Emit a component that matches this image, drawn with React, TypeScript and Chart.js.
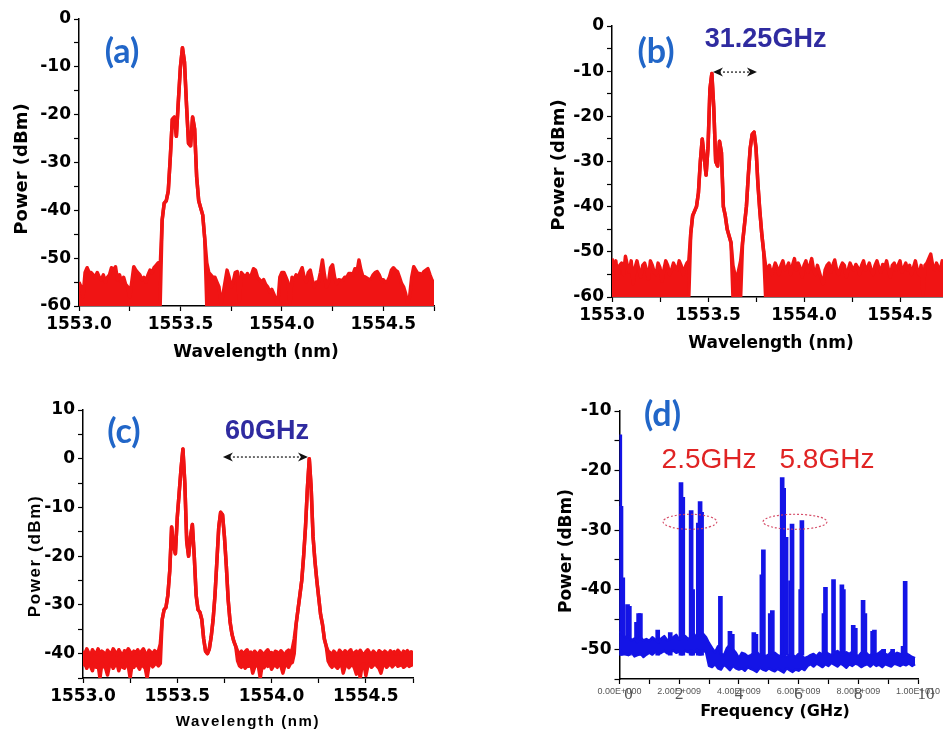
import { useEffect, useRef } from 'react';
import { Chart, registerables } from 'chart.js';

Chart.register(...registerables);

// ---- colours -------------------------------------------------------------
const RED = '#f01414';
const BLUE = '#1414e6';
const LABEL_BLUE = '#2166c8';
const INDIGO = '#2f2ba0';
const NOTE_RED = '#e02424';

// ---- OSA sampling grid shared by panels (a)-(c), nm ----------------------
const WL_START = 1553.0;
const WL_STEP = 0.01;

// ---- (a) single optical carrier: upper / lower trace envelope (dBm) ------
// lower value null = the trace is a single line at that sample
const aHigh = [
  -55, -56, -58, -53, -52, -53, -53, -53.5, -54, -53,
  -54, -54.5, -53.5, -55, -54, -53.5, -52, -52.5, -51.8, -54.5,
  -53.5, -55, -54, -55.5, -56, -58, -55, -51.8, -52.5, -53,
  -53.5, -54.5, -54, -55, -53.5, -52.5, -53, -52, -51.5, -51,
  -52, -42, -38.5, -38, -36, -29, -21, -20.5, -24.5, -17,
  -10, -6, -9, -18, -26, -26.5, -20.5, -23, -33, -38,
  -39.5, -41, -46, -51, -53, -53.5, -54, -54, -55, -56,
  -59.5, -57.5, -55, -52.5, -54, -56, -55, -53, -52.8, -59,
  -53, -53.5, -54, -53.2, -54, -53.5, -52.2, -52.5, -54, -54.5,
  -55, -54.5, -55.5, -56, -57, -56.5, -57.5, -58.5, -59.5, -54,
  -53, -53, -54, -55, -59.5, -54, -54.5, -53.5, -54, -53,
  -52, -54, -55, -53, -52.5, -54.5, -56, -55, -55, -53,
  -50.4, -53.5, -56, -55, -52, -51.4, -54, -55.3, -54.5, -54.6,
  -54.6, -54, -54, -53.2, -53.2, -53.5, -52.2, -53, -50.4, -52.5,
  -53.9, -53.9, -54.2, -54.5, -54.3, -53.5, -53, -52.8, -53.5, -54.6,
  -54.5, -55, -54.9, -54, -52.5, -52, -52.5, -52.8, -54, -55.3,
  -56, -57.4, -59.4, -58, -54, -51.8, -52.5, -53.2, -53.2, -53.5,
  -52.8, -52.5, -52.2, -53.5, -54.6, -55,
];
const aLow = [
  -60, -60, -60, -60, -60, -60, -60, -60, -60, -60,
  -60, -60, -60, -60, -60, -60, -60, -60, -60, -60,
  -60, -60, -60, -60, -60, -60, -60, -60, -60, -60,
  -60, -60, -60, -60, -60, -60, -60, -60, -60, -60,
  -60, null, null, null, null, null, null, null, null, null,
  null, null, null, null, null, null, null, null, null, null,
  null, null, null, -60, -60, -60, -60, -60, -60, -60,
  -60, -60, -60, -60, -60, -60, -60, -60, -60, -60,
  -60, -60, -60, -60, -60, -60, -60, -60, -60, -60,
  -60, -60, -60, -60, -60, -60, -60, -60, -60, -60,
  -60, -60, -60, -60, -60, -60, -60, -60, -60, -60,
  -60, -60, -60, -60, -60, -60, -60, -60, -60, -60,
  -60, -60, -60, -60, -60, -60, -60, -60, -60, -60,
  -60, -60, -60, -60, -60, -60, -60, -60, -60, -60,
  -60, -60, -60, -60, -60, -60, -60, -60, -60, -60,
  -60, -60, -60, -60, -60, -60, -60, -60, -60, -60,
  -60, -60, -60, -60, -60, -60, -60, -60, -60, -60,
  -60, -60, -60, -60, -60, -60,
];

// ---- (b) carrier + 31.25 GHz line ---------------------------------------
const bHigh = [
  -51.5, -54, -52, -56, -53, -52.5, -55, -51, -53, -54.5,
  -52, -57, -53.5, -52, -54, -55.5, -53, -52.5, -54, -56,
  -52, -53, -54.5, -55, -52.5, -53.5, -56.5, -54, -52, -53,
  -55, -54, -52.5, -53.5, -54, -52, -53, -55, -53.5, -52.5,
  -52, -46, -42, -41, -40, -37, -30, -25, -29, -33,
  -27, -14, -10.5, -18, -30, -31, -25.5, -28, -40, -42,
  -45, -46.5, -48, -53, -55, -56, -54, -52, -48, -44,
  -40, -33, -27, -24, -23.5, -27, -35, -41, -46, -50,
  -53, -54, -53, -55, -54, -52.5, -53.5, -55, -53, -52,
  -54, -53.5, -52.5, -55, -53, -51.5, -54, -52.5, -53.5, -55.5,
  -53, -52, -54.5, -53, -51.5, -54, -55, -53, -54.5, -56,
  -57, -54, -53, -52.5, -54.5, -53, -51.8, -54, -55, -53.5,
  -52.5, -53, -55.5, -54, -52.5, -53.5, -54, -52.8, -53.5, -55,
  -53, -52, -54, -53.5, -52.5, -54, -55, -53, -52, -53.5,
  -54.5, -52.8, -53.5, -52, -54, -55.5, -53, -52.5, -54, -53,
  -52, -54.5, -53.5, -52.5, -54, -53, -55, -53.5, -52, -54,
  -55, -53, -59.5, -53, -52.5, -51.5, -50.5, -53, -54, -52.5,
  -53.5, -54, -52, -53, -54.5, -53,
];
const bLow = [
  -60, -60, -60, -60, -60, -60, -60, -60, -60, -60,
  -60, -60, -60, -60, -60, -60, -60, -60, -60, -60,
  -60, -60, -60, -60, -60, -60, -60, -60, -60, -60,
  -60, -60, -60, -60, -60, -60, -60, -60, -60, -60,
  -60, null, null, null, null, null, null, null, null, null,
  null, null, null, null, null, null, null, null, null, null,
  null, null, null, -60, -60, -60, -60, -60, null, null,
  null, null, null, null, null, null, null, null, null, null,
  -60, -60, -60, -60, -60, -60, -60, -60, -60, -60,
  -60, -60, -60, -60, -60, -60, -60, -60, -60, -60,
  -60, -60, -60, -60, -60, -60, -60, -60, -60, -60,
  -60, -60, -60, -60, -60, -60, -60, -60, -60, -60,
  -60, -60, -60, -60, -60, -60, -60, -60, -60, -60,
  -60, -60, -60, -60, -60, -60, -60, -60, -60, -60,
  -60, -60, -60, -60, -60, -60, -60, -60, -60, -60,
  -60, -60, -60, -60, -60, -60, -60, -60, -60, -60,
  -60, -60, -60, -60, -60, -60, -60, -60, -60, -60,
  -60, -60, -60, -60, -60, -60,
];

// ---- (c) carrier, 31.25 GHz line and 60 GHz line -------------------------
const cHigh = [
  -39.5, -40, -39, -39.8, -40.5, -39.2, -39.8, -40, -39, -40.2,
  -39.5, -39.8, -40.5, -39.3, -39.8, -40, -39, -39.6, -40.3, -39.2,
  -39.9, -40.5, -39.4, -39.8, -39, -39.6, -40.2, -39.5, -39.9, -39.2,
  -40.1, -39.5, -39, -39.8, -40.4, -39.3, -39.7, -40, -39.4, -39.8,
  -39.5, -38, -33, -31, -30.5, -28, -23, -14, -18, -19.5,
  -12, -7, -2, 2, -5, -17, -20, -16, -13.5, -20,
  -28, -31, -31.5, -33, -37, -39.5, -40, -39, -36.5, -33,
  -28, -21, -14, -11, -11.5, -16, -22, -29, -33.5, -36,
  -37.5, -38.5, -39.5, -40, -39.5, -40.3, -39.6, -39.2, -40, -39.7,
  -40.4, -39.5, -39.9, -40.2, -39.4, -39.8, -40.5, -39.6, -39.2, -40,
  -39.8, -40.3, -39.5, -39.7, -40.1, -39.4, -39.9, -40.3, -39.6, -39.3,
  -39.8, -39, -37, -34, -31, -28, -25, -20, -14, -6,
  0, -6, -16, -21, -25, -28.5, -32, -34, -37, -38.5,
  -39.5, -39.8, -40.2, -39.5, -39.9, -40.4, -39.3, -39.7, -40.1, -39.4,
  -40, -39.6, -39.2, -40.3, -39.8, -39.5, -40, -39.3, -39.9, -40.4,
  -39.6, -39.2, -39.8, -40.1, -39.5, -39.9, -40.3, -39.4, -39.7, -40,
  -39.5, -39.8, -40.2, -39.4, -39.9, -39.6, -40.1, -39.3, -39.8, -40.2,
  -39.5, -39.9, -39.4, -40, -39.6, -39.8,
];
const cLow = [
  -42.5, -42, -43, -42.2, -42.6, -43.5, -42, -42.8, -42.3, -45,
  -42, -42.6, -43, -44.4, -42.5, -42, -43, -42.4, -42, -43.5,
  -42.2, -42.8, -43, -42, -42.5, -45, -42.3, -42.8, -42, -42.5,
  -43.2, -42, -42.6, -43, -45, -42.4, -42, -42.7, -42.2, -42,
  -42.5, -42, null, null, null, null, null, null, null, null,
  null, null, null, null, null, null, null, null, null, null,
  null, null, null, null, null, null, null, null, null, null,
  null, null, null, null, null, null, null, null, null, null,
  null, null, -41.5, -42.5, -42.8, -42.2, -43, -42.5, -42.6, -42,
  -44, -42.8, -42.3, -42.6, -45, -42.4, -42.9, -42.2, -42.6, -42,
  -43.2, -42.5, -42.3, -42.8, -42, -42.6, -44, -42.5, -42.2, -42.8,
  -42, -41.8, -40, null, null, null, null, null, null, null,
  null, null, null, null, null, null, null, null, null, null,
  -41.5, -42.3, -42.8, -42.2, -42.6, -43, -42.4, -42, -44, -42.6,
  -42.2, -42.9, -42.4, -42.2, -43, -44.2, -42.5, -45, -42.4, -42.1,
  -44.5, -42.6, -42.2, -42.8, -42.4, -42, -42.6, -43, -44, -42.5,
  -42.2, -42.8, -42.4, -42.1, -42.7, -42.3, -42, -42.6, -42.4, -42.2,
  -42.8, -42.5, -42.1, -42.6, -42.3, -42.5,
];

// ---- (d) RF spectrum: noise floor band on a 0.1 GHz grid ----------------
const F_START = 0;
const F_STEP = 0.1;
const dHigh = [
  -47, -47.5, -48, -47.8, -48.5, -48.2, -48.8, -48, -48.5, -48.3,
  -48.6, -48, -48.4, -48.8, -48.2, -47.8, -48.5, -48.3, -48, -47.6,
  -48.4, -48.1, -47.8, -48.3, -48, -47.5, -48.2, -47.8, -47.4, -48,
  -49, -49.8, -50.5, -49.5, -50.8, -51, -49.8, -49.2, -50, -50.6,
  -51.5, -50.6, -50.8, -51.2, -51, -50.7, -50.5, -51, -50.8, -51.2,
  -50.9, -51.3, -50.6, -51, -51.2, -50.8, -51.4, -50.9, -51, -51.3,
  -50.8, -51.1, -51.5, -51.3, -51, -50.8, -51.2, -50.6, -50.9, -50.4,
  -50.8, -51, -50.6, -50.3, -50.7, -51, -50.5, -50.8, -50.4, -50.9,
  -51.2, -50.6, -50.3, -50.8, -51.1, -50.5, -50.9, -50.6, -50.2, -50.8,
  -51, -50.5, -50.9, -50.6, -50.8, -51.2, -50.7, -51, -51.3, -51.5,
];
const dLow = [
  -50, -50.6, -50.8, -51, -50.5, -51.2, -51, -50.7, -51.3, -50.9,
  -50.6, -50.9, -50.4, -50.8, -50.6, -50.3, -50.7, -50.5, -50.2, -50.6,
  -50.4, -50.7, -50.3, -50.5, -50.2, -50.6, -50.1, -50.4, -50.2, -50.5,
  -52.8, -53, -52.5, -53.2, -53.4, -52.6, -53, -53.5, -52.8, -53.2,
  -53.4, -53.2, -53.6, -53, -53.3, -53.5, -53.8, -53.1, -53.4, -53.6,
  -53.2, -53.5, -53.7, -53.3, -53.6, -53.9, -53.2, -53.5, -53.8, -53.4,
  -53.6, -53.2, -53.5, -52.8, -52.5, -52.9, -52.4, -52.7, -53, -52.5,
  -52.8, -52.3, -52.6, -52.9, -52.4, -52.7, -53.1, -52.5, -52.8, -52.4,
  -52.6, -53, -52.7, -52.5, -52.9, -52.4, -52.8, -52.6, -53, -52.5,
  -52.7, -52.9, -52.4, -52.6, -52.8, -52.5, -52.7, -52.4, -52.8, -52.5,
];

// ---- (d) beat tones rising out of the floor (GHz, peak dBm) -------------
const SPIKE_BASE = -51;
const dSpikeFreq = [
  0.01, 0.05, 0.11, 0.27, 0.33, 0.57, 0.64, 0.70, 1.28, 1.70,
  2.06, 2.12, 2.40, 2.45, 2.64, 2.70, 2.75, 3.38, 3.70, 3.78,
  4.50, 4.57, 4.77, 4.82, 5.05, 5.12, 5.45, 5.50, 5.58, 5.73,
  5.78, 6.07, 6.11, 6.85, 6.90, 7.17, 7.45, 7.50, 7.83, 7.90,
  8.16, 8.22, 8.48, 8.54, 8.85, 9.15, 9.50, 9.57,
];
const dSpikeTop = [
  -14, -26, -38, -42.5, -42.8, -45.5, -44, -44, -46.8, -47.2,
  -22, -24.5, -26.7, -40, -28.8, -25.2, -27, -41.1, -47, -47.5,
  -47.2, -47.5, -37.5, -33.3, -44, -43.5, -21.2, -23, -31.2, -38.5,
  -29, -40, -28.4, -44, -39.6, -38.3, -39.2, -40, -46, -46.5,
  -41.8, -44, -47, -46.8, -50, -50, -49.5, -38.6,
];
const dDigitTicks = [0, 2, 4, 6, 8, 10];

// ---- helpers -------------------------------------------------------------
const DEJAVU = '"DejaVu Sans", sans-serif';
const tickFont = { family: DEJAVU, weight: 'bold', size: 17 };

function gridPoints(values, start, step) {
  return values.map((v, i) => ({ x: +(start + i * step).toFixed(4), y: v }));
}
function lowerPoints(high, low, start, step) {
  return high.map((v, i) => ({ x: +(start + i * step).toFixed(4), y: low[i] ?? v }));
}
function envelopeSets(high, low, start, step, color, width) {
  const common = {
    type: 'line', borderColor: color, borderWidth: width, pointRadius: 0, tension: 0,
    borderJoinStyle: 'round',
  };
  return [
    { ...common, data: gridPoints(high, start, step), fill: false },
    { ...common, data: lowerPoints(high, low, start, step), backgroundColor: color, fill: '-1' },
  ];
}

const wlLabel = (v) => (Math.abs(v * 2 - Math.round(v * 2)) < 1e-6 ? v.toFixed(1) : '');
const dbLabel = (v) => (Math.abs(v % 10) < 1e-6 ? String(Math.round(v)) : '');
const hzLabel = (v) => {
  const r = Math.round(v);
  if (Math.abs(v - r) > 1e-6 || r % 2 !== 0) return '';
  const hz = r * 1e9;
  if (hz === 0) return '0.00E+000';
  const e = Math.floor(Math.log10(hz));
  return (hz / Math.pow(10, e)).toFixed(2) + 'E+' + String(e).padStart(3, '0');
};

function linearAxis(o) {
  return {
    type: 'linear', min: o.min, max: o.max, offset: false,
    afterFit: (s) => { if (o.horizontal) s.height = o.size; else s.width = o.size; },
    ticks: {
      stepSize: o.step, autoSkip: false, maxRotation: 0, minRotation: 0, includeBounds: true,
      padding: o.padding ?? 3, color: o.color ?? '#000', font: o.font,
      callback: (v) => o.label(Number(v)),
    },
    grid: { drawOnChartArea: false, drawTicks: true, tickLength: 5, tickWidth: 1.2, tickColor: '#000', offset: false },
    border: { display: true, color: '#000', width: 1.5 },
  };
}

function drawText(ctx, text, x, y, font, color, spacing = 0, rotate = 0) {
  ctx.save();
  ctx.translate(x, y);
  if (rotate) ctx.rotate((rotate * Math.PI) / 180);
  ctx.font = font;
  ctx.fillStyle = color;
  ctx.textAlign = 'center';
  ctx.textBaseline = 'middle';
  ctx.letterSpacing = spacing + 'px';
  ctx.fillText(text, 0, 0);
  ctx.restore();
}

function notesPlugin(spec) {
  return {
    id: 'notes_' + spec.id,
    afterDraw(chart) {
      const { ctx, chartArea } = chart;
      const xs = chart.scales.x;
      const ys = chart.scales.y;
      for (const t of spec.titles) drawText(ctx, t.text, t.x, t.y, t.font, '#000', t.spacing ?? 0, t.rotate ?? 0);
      for (const n of spec.notes) {
        if (n.kind === 'text') {
          drawText(ctx, n.text, xs.getPixelForValue(n.x), ys.getPixelForValue(n.y), n.font, n.color);
        } else if (n.kind === 'arrow') {
          const a = xs.getPixelForValue(n.x1);
          const b = xs.getPixelForValue(n.x2);
          const y = ys.getPixelForValue(n.y);
          ctx.save();
          ctx.strokeStyle = '#111';
          ctx.fillStyle = '#111';
          ctx.lineWidth = 1.2;
          ctx.setLineDash([2, 2]);
          ctx.beginPath();
          ctx.moveTo(a + 6, y);
          ctx.lineTo(b - 6, y);
          ctx.stroke();
          ctx.setLineDash([]);
          for (const [px, dir] of [[a, 1], [b, -1]]) {
            ctx.beginPath();
            ctx.moveTo(px, y);
            ctx.lineTo(px + dir * 10, y - 4.5);
            ctx.lineTo(px + dir * 7, y);
            ctx.lineTo(px + dir * 10, y + 4.5);
            ctx.closePath();
            ctx.fill();
          }
          ctx.restore();
        } else if (n.kind === 'ellipse') {
          const cx = xs.getPixelForValue(n.x);
          const cy = ys.getPixelForValue(n.y);
          const rx = Math.abs(xs.getPixelForValue(n.x + n.rx) - cx);
          const ry = Math.abs(ys.getPixelForValue(n.y + n.ry) - cy);
          ctx.save();
          ctx.strokeStyle = n.color;
          ctx.lineWidth = 1.2;
          ctx.setLineDash([2, 2]);
          ctx.beginPath();
          ctx.ellipse(cx, cy, rx, ry, 0, 0, Math.PI * 2);
          ctx.stroke();
          ctx.restore();
        } else if (n.kind === 'digits') {
          for (const v of n.values) {
            const nudge = v === n.values[0] ? 9 : v === n.values[n.values.length - 1] ? 8 : 0;
            drawText(ctx, String(v), xs.getPixelForValue(v) + nudge, chartArea.bottom + n.dy, n.font, n.color);
          }
        }
      }
    },
  };
}

function buildConfig(spec) {
  const { box, area } = spec;
  return {
    type: 'line',
    data: { datasets: spec.datasets() },
    options: {
      responsive: false,
      animation: false,
      devicePixelRatio: 1,
      events: [],
      layout: { padding: { left: 0, bottom: 0, top: area.top - box.y, right: box.x + box.w - area.right } },
      plugins: { legend: { display: false }, tooltip: { enabled: false } },
      scales: {
        x: linearAxis({ ...spec.x, horizontal: true, size: box.y + box.h - area.bottom }),
        y: linearAxis({ ...spec.y, horizontal: false, size: area.left - box.x }),
      },
    },
    plugins: [notesPlugin(spec)],
  };
}

// ---- the four panels -----------------------------------------------------
const TAG_FONT = 'bold 34px Lato, "Open Sans", sans-serif';
const GHZ_FONT = 'bold 27px "Liberation Sans", Arial, sans-serif';
const RF_FONT = '28px "Liberation Sans", Arial, sans-serif';

const panels = [
  {
    id: 'a',
    box: { x: 0, y: 0, w: 470, h: 380 },
    area: { left: 79, top: 19, right: 434, bottom: 306 },
    x: { min: 1553, max: 1554.75, step: 0.25, label: wlLabel, font: tickFont },
    y: { min: -60, max: 0, step: 5, label: dbLabel, font: tickFont },
    datasets: () => envelopeSets(aHigh, aLow, WL_START, WL_STEP, RED, 3.5),
    titles: [
      { text: 'Power (dBm)', x: 22, y: 169, rotate: -90, font: `bold 18px ${DEJAVU}` },
      { text: 'Wavelength (nm)', x: 256, y: 353, font: `bold 17px ${DEJAVU}` },
    ],
    notes: [{ kind: 'text', text: '(a)', x: 1553.212, y: -6.9, font: TAG_FONT, color: LABEL_BLUE }],
  },
  {
    id: 'b',
    box: { x: 470, y: 0, w: 490, h: 380 },
    area: { left: 612, top: 26, right: 948, bottom: 297 },
    x: { min: 1553, max: 1554.75, step: 0.25, label: wlLabel, font: tickFont },
    y: { min: -60, max: 0, step: 5, label: dbLabel, font: tickFont },
    datasets: () => envelopeSets(bHigh, bLow, WL_START, WL_STEP, RED, 3.5),
    titles: [
      { text: 'Power (dBm)', x: 89, y: 165, rotate: -90, font: `bold 18px ${DEJAVU}` },
      { text: 'Wavelength (nm)', x: 301, y: 344, font: `bold 17px ${DEJAVU}` },
    ],
    notes: [
      { kind: 'text', text: '(b)', x: 1553.229, y: -5.75, font: TAG_FONT, color: LABEL_BLUE },
      { kind: 'text', text: '31.25GHz', x: 1553.8, y: -3.1, font: GHZ_FONT, color: INDIGO },
      { kind: 'arrow', x1: 1553.526, x2: 1553.755, y: -10.2 },
    ],
  },
  {
    id: 'c',
    box: { x: 0, y: 380, w: 470, h: 356 },
    area: { left: 83, top: 410, right: 413, bottom: 678 },
    x: { min: 1553, max: 1554.75, step: 0.25, label: wlLabel, font: tickFont },
    y: { min: -45, max: 10, step: 5, label: dbLabel, font: tickFont },
    datasets: () => envelopeSets(cHigh, cLow, WL_START, WL_STEP, RED, 3.5),
    titles: [
      { text: 'Power (dBm)', x: 35, y: 176, rotate: -90, font: 'bold 17px "Liberation Sans", Arial, sans-serif', spacing: 1.6 },
      { text: 'Wavelength (nm)', x: 248, y: 342, font: 'bold 15px "Liberation Sans", Arial, sans-serif', spacing: 1.6 },
    ],
    notes: [
      { kind: 'text', text: '(c)', x: 1553.217, y: 5.5, font: TAG_FONT, color: LABEL_BLUE },
      { kind: 'text', text: '60GHz', x: 1553.976, y: 5.5, font: GHZ_FONT, color: INDIGO },
      { kind: 'arrow', x1: 1553.742, x2: 1554.193, y: 0.35 },
    ],
  },
  {
    id: 'd',
    box: { x: 470, y: 380, w: 473, h: 356 },
    area: { left: 619.5, top: 411, right: 918, bottom: 679 },
    x: {
      min: 0, max: 10, step: 1, label: hzLabel, padding: 2, color: '#555',
      font: { family: '"Liberation Sans", Arial, sans-serif', size: 9 },
    },
    y: { min: -55, max: -10, step: 5, label: dbLabel, font: tickFont },
    datasets: () => [
      ...envelopeSets(dHigh, dLow, F_START, F_STEP, BLUE, 2.5),
      {
        type: 'bar',
        data: dSpikeFreq.map((f, i) => ({ x: f, y: [SPIKE_BASE, dSpikeTop[i]] })),
        backgroundColor: BLUE, borderWidth: 0, barThickness: 4, grouped: false,
      },
    ],
    titles: [
      { text: 'Power (dBm)', x: 97, y: 171, rotate: -90, font: `bold 17px ${DEJAVU}` },
      { text: 'Frequency (GHz)', x: 305, y: 332, font: `bold 16px ${DEJAVU}` },
    ],
    notes: [
      { kind: 'digits', values: dDigitTicks, dy: 16, font: '17px "Liberation Serif", serif', color: '#555' },
      { kind: 'text', text: '(d)', x: 1.44, y: -10.7, font: TAG_FONT, color: LABEL_BLUE },
      { kind: 'text', text: '2.5GHz', x: 3.0, y: -18.2, font: RF_FONT, color: NOTE_RED },
      { kind: 'text', text: '5.8GHz', x: 6.95, y: -18.2, font: RF_FONT, color: NOTE_RED },
      { kind: 'ellipse', x: 2.36, y: -28.6, rx: 0.9, ry: 1.26, color: 'rgba(210,60,90,0.9)' },
      { kind: 'ellipse', x: 5.88, y: -28.6, rx: 1.07, ry: 1.26, color: 'rgba(210,60,90,0.9)' },
    ],
  },
];

function Panel({ spec }) {
  const ref = useRef<HTMLCanvasElement>(null);
  useEffect(() => {
    const chart = new Chart(ref.current as HTMLCanvasElement, buildConfig(spec) as any);
    return () => chart.destroy();
  }, [spec]);
  const { box } = spec;
  return (
    <canvas
      ref={ref}
      width={box.w}
      height={box.h}
      style={{ position: 'absolute', left: box.x, top: box.y, width: box.w, height: box.h }}
    />
  );
}

export default function App() {
  return (
    <div style={{ position: 'fixed', left: 0, top: 0, width: 943, height: 736, overflow: 'hidden', background: '#fff' }}>
      {panels.map((p) => (
        <Panel key={p.id} spec={p} />
      ))}
    </div>
  );
}
